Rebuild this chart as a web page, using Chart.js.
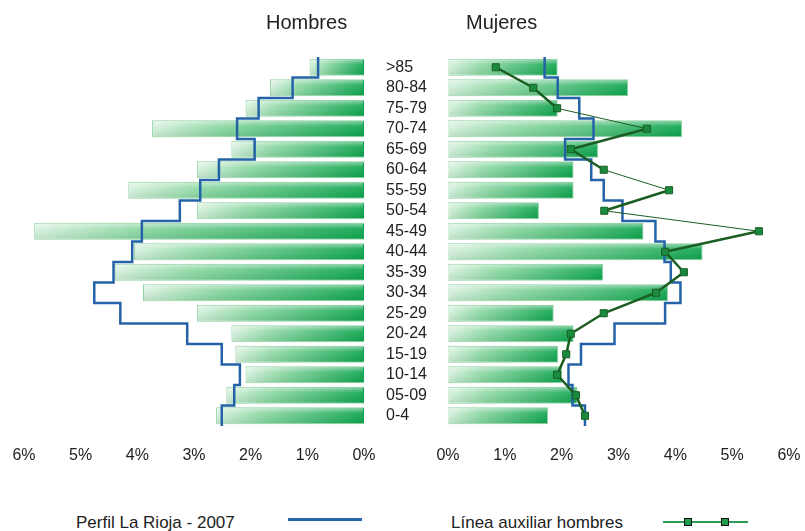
<!DOCTYPE html>
<html>
<head>
<meta charset="utf-8">
<script src="https://cdn.jsdelivr.net/npm/chart.js@4.4.1/dist/chart.umd.min.js"></script>
<style>
  body { margin: 0; background: #fff; font-family: "Liberation Sans", Arial, sans-serif; color: #222; }
  #wrap { position: relative; width: 805px; height: 531px; overflow: hidden; }
  #hombres { position: absolute; left: 0; top: 0; }
  #mujeres { position: absolute; left: 380px; top: 0; }
  .titulo { position: absolute; top: 12px; font-size: 20px; line-height: 20px; }
  .leyenda { position: absolute; top: 514px; font-size: 17px; line-height: 17px; }
  .muestra { position: absolute; }
</style>
</head>
<body>
<div id="wrap">
  <canvas id="hombres" width="380" height="480"></canvas>
  <canvas id="mujeres" width="425" height="480"></canvas>
  <div class="titulo" style="left:266px">Hombres</div>
  <div class="titulo" style="left:466px">Mujeres</div>
  <div class="leyenda" style="left:76px">Perfil La Rioja - 2007</div>
  <div class="muestra" style="left:288px;top:518px;width:74px;height:3px;background:#2666ad"></div>
  <div class="leyenda" style="left:451px">Línea auxiliar hombres</div>
  <div class="muestra" style="left:663px;top:521px;width:85px;height:2px;background:#2e9b58"></div>
  <div class="muestra" style="left:684px;top:518px;width:6px;height:6px;background:#1d9a4a;border:1.5px solid #111"></div>
  <div class="muestra" style="left:721px;top:518px;width:6px;height:6px;background:#1d9a4a;border:1.5px solid #111"></div>
</div>
<script>
// grupos de edad, de arriba abajo
const edades = ['>85', '80-84', '75-79', '70-74', '65-69', '60-64', '55-59', '50-54', '45-49',
                '40-44', '35-39', '30-34', '25-29', '20-24', '15-19', '10-14', '05-09', '0-4'];

// % de poblacion (barras)
const hombres = [0.96, 1.66, 2.09, 3.74, 2.34, 2.95, 4.16, 2.95, 5.82,
                 4.06, 4.40, 3.90, 2.95, 2.34, 2.27, 2.09, 2.43, 2.61];
const mujeres = [1.93, 3.17, 1.93, 4.12, 2.64, 2.21, 2.21, 1.60, 3.44,
                 4.48, 2.73, 3.87, 1.86, 2.21, 1.94, 2.01, 2.28, 1.76];

// perfil La Rioja 2007 (linea escalonada)
const perfilHombres = [0.81, 1.26, 1.86, 2.24, 1.93, 2.56, 2.89, 3.25, 3.92,
                       4.09, 4.42, 4.76, 4.30, 3.12, 2.51, 2.19, 2.29, 2.51];
const perfilMujeres = [1.70, 1.93, 2.31, 2.56, 2.06, 2.52, 2.74, 3.07, 3.65,
                       3.81, 3.92, 4.09, 3.82, 2.93, 2.34, 2.12, 2.19, 2.41];

// linea auxiliar hombres (lado mujeres)
const auxHombres = [0.84, 1.50, 1.92, 3.50, 2.16, 2.74, 3.89, 2.75, 5.47,
                    3.82, 4.15, 3.66, 2.74, 2.16, 2.08, 1.92, 2.25, 2.41];

const ticksPct = [0, 1, 2, 3, 4, 5, 6];

Chart.defaults.font.family = '"Liberation Sans", Arial, sans-serif';
Chart.defaults.color = '#222';

// cada barra con su propio degradado, claro a la izquierda y verde a la derecha
function degradado(context) {
    const chart = context.chart;
    if (!chart.chartArea || context.type !== 'data') return '#5cc47f';
    const x = chart.scales.x;
    const a = x.getPixelForValue(0);
    const b = x.getPixelForValue(context.raw);
    const g = chart.ctx.createLinearGradient(Math.min(a, b), 0, Math.max(a, b), 0);
    g.addColorStop(0, '#d8f1de');
    g.addColorStop(0.3, '#8ed8a4');
    g.addColorStop(1, '#0ba34c');
    return g;
}

// dos puntos por fila para dibujar el escalon
function escalones(valores) {
    const pts = [];
    valores.forEach((v, i) => {
        pts.push({ x: v, y: i - 0.5 });
        pts.push({ x: v, y: i + 0.5 });
    });
    return pts;
}

function escalaX(invertida) {
    return {
        type: 'linear',
        min: 0,
        max: 6,
        reverse: invertida,
        grid: { display: false },
        border: { display: false },
        afterBuildTicks: s => { s.ticks = ticksPct.map(v => ({ value: v })); },
        // el hueco lateral ya lo da layout.padding
        afterFit: s => { s.height = 54; s.paddingLeft = 0; s.paddingRight = 0; },
        ticks: { padding: 12, font: { size: 16 }, callback: v => v + '%' }
    };
}

const escalaPasos = { type: 'linear', min: -0.5, max: 17.5, reverse: true, offset: false, display: false };

function barras(valores) {
    return {
        type: 'bar',
        data: valores,
        backgroundColor: degradado,
        borderColor: '#92d1a2',
        borderWidth: 1,
        grouped: false,
        barPercentage: 0.82,
        categoryPercentage: 1,
        order: 3
    };
}

function perfil(valores) {
    return {
        type: 'line',
        data: escalones(valores),
        yAxisID: 'yPasos',
        borderColor: '#2563a9',
        borderWidth: 2.5,
        pointRadius: 0,
        tension: 0,
        clip: 6,
        order: 2
    };
}

// brillo en la parte de arriba de cada barra
const brillo = {
    id: 'brillo',
    afterDatasetDraw(chart, args) {
        if (args.meta.type !== 'bar') return;
        const ctx = chart.ctx;
        ctx.save();
        args.meta.data.forEach(bar => {
            const top = bar.y - bar.height / 2;
            const left = Math.min(bar.x, bar.base);
            const w = Math.abs(bar.x - bar.base);
            const g = ctx.createLinearGradient(0, top, 0, top + bar.height);
            g.addColorStop(0, 'rgba(255,255,255,0.55)');
            g.addColorStop(0.35, 'rgba(255,255,255,0.1)');
            g.addColorStop(1, 'rgba(0,90,40,0.12)');
            ctx.fillStyle = g;
            ctx.fillRect(left + 1, top + 1, w - 2, bar.height - 2);
        });
        ctx.restore();
    }
};

new Chart(document.getElementById('hombres'), {
    type: 'bar',
    data: {
        labels: edades,
        datasets: [barras(hombres), perfil(perfilHombres)]
    },
    options: {
        indexAxis: 'y',
        responsive: false,
        animation: false,
        layout: { padding: { left: 24, right: 16, top: 57, bottom: 0 } },
        plugins: { legend: { display: false }, tooltip: { enabled: false } },
        scales: {
            x: escalaX(true),
            y: { type: 'category', display: false },
            yPasos: escalaPasos
        }
    },
    plugins: [brillo]
});

new Chart(document.getElementById('mujeres'), {
    type: 'bar',
    data: {
        labels: edades,
        datasets: [
            barras(mujeres),
            perfil(perfilMujeres),
            {
                type: 'line',
                data: auxHombres,
                yAxisID: 'y',
                borderColor: '#1b5e22',
                borderWidth: 2.5,
                segment: {
                    // los tramos casi horizontales salen finos en el original
                    borderWidth: c => (c.p1.x - c.p0.x > 50 ? 1 : 2.5)
                },
                pointStyle: 'rect',
                pointRadius: 5,
                pointBackgroundColor: '#1a8a40',
                pointBorderColor: '#1b5e22',
                pointBorderWidth: 1,
                tension: 0,
                clip: 8,
                order: 1
            }
        ]
    },
    options: {
        indexAxis: 'y',
        responsive: false,
        animation: false,
        layout: { padding: { left: 6, right: 16, top: 57, bottom: 0 } },
        plugins: { legend: { display: false }, tooltip: { enabled: false } },
        scales: {
            x: escalaX(false),
            y: {
                type: 'category',
                position: 'left',
                grid: { display: false },
                border: { display: false },
                afterFit: s => { s.width = 62; },
                ticks: { crossAlign: 'far', padding: 0, autoSkip: false, font: { size: 16 } }
            },
            yPasos: escalaPasos
        }
    },
    plugins: [brillo]
});
</script>
</body>
</html>
